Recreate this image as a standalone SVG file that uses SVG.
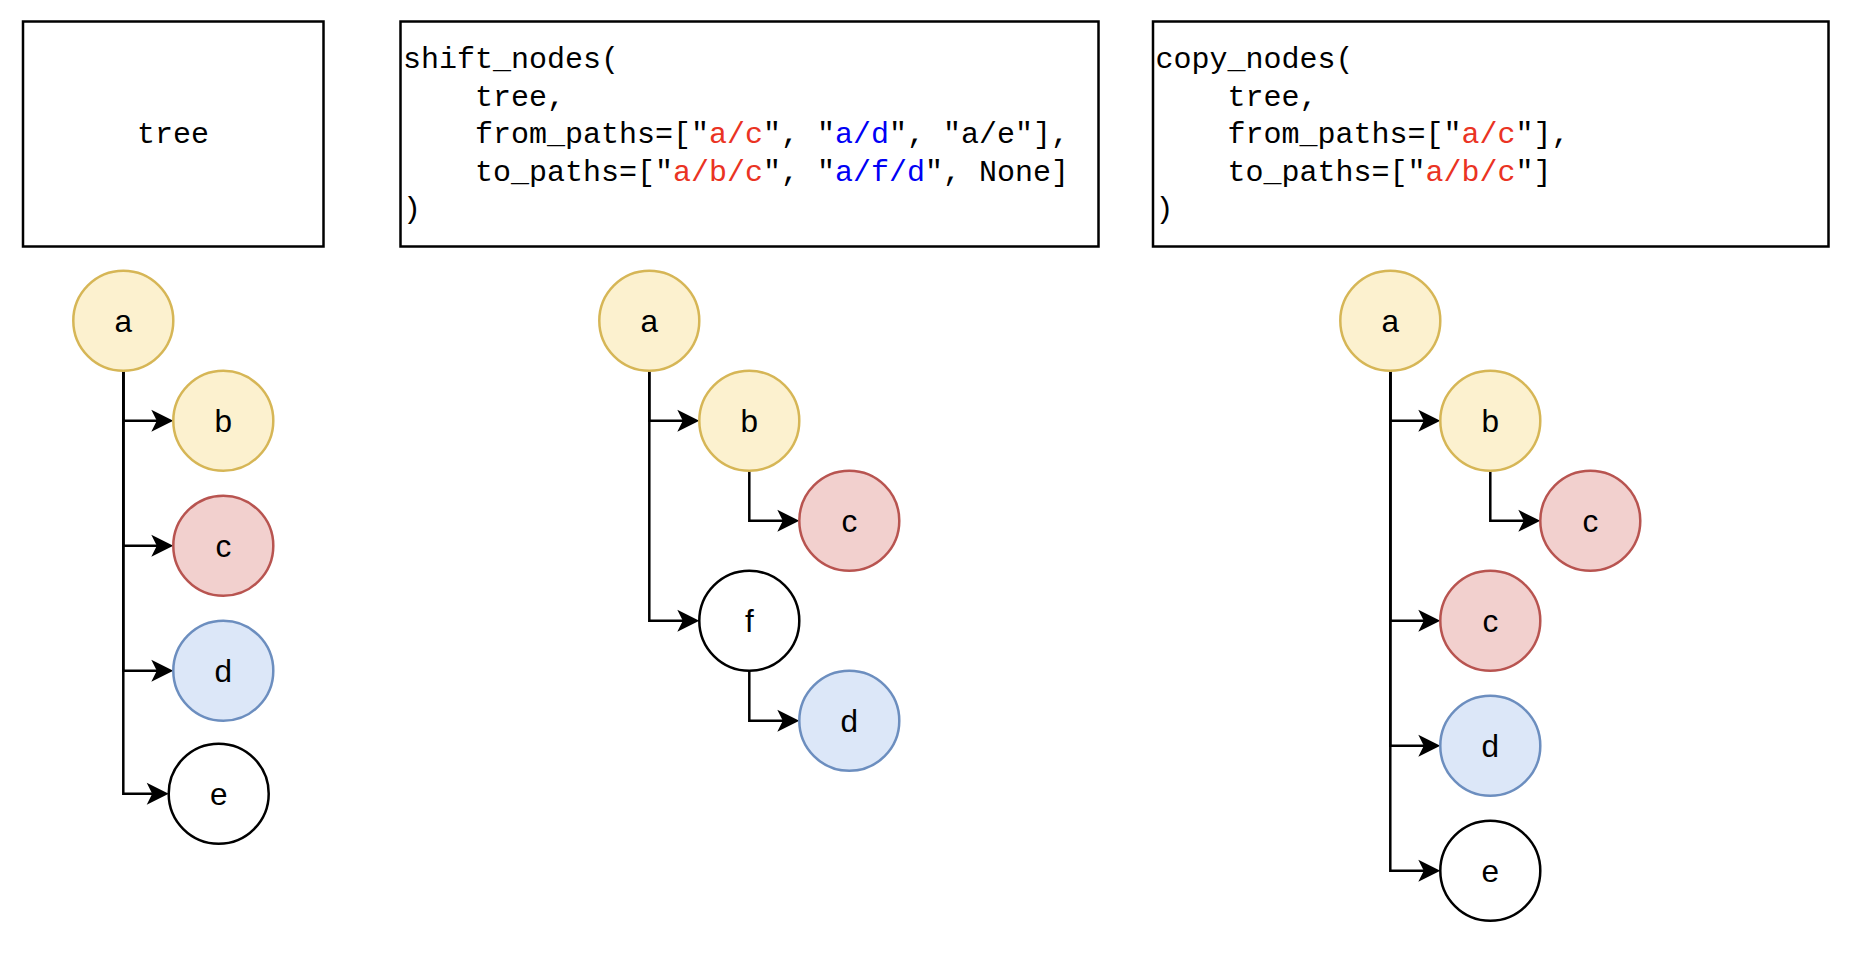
<svg xmlns="http://www.w3.org/2000/svg" width="1858" height="954" viewBox="0 0 1858 954">
  <style>
    .box { fill: #ffffff; stroke: #000000; stroke-width: 2.5; }
    .code { font-family: "Liberation Mono", "Courier New", monospace; font-size: 30px; fill: #000000; }
    .red { fill: #EA3323; }
    .blue { fill: #0000F5; }
    .edge { fill: none; stroke: #000000; stroke-width: 2.5; }
    .n { stroke-width: 2.5; }
    .yellow { fill: #fcf1cf; stroke: #d6b656; }
    .pink { fill: #f2d0ce; stroke: #b85450; }
    .lblue { fill: #dce7f8; stroke: #6c8ebf; }
    .plain { fill: #ffffff; stroke: #000000; }
    .lbl { font-family: "Liberation Sans", Arial, Helvetica, sans-serif; font-size: 31.5px; fill: #000000; text-anchor: middle; }
  </style>
  <defs>
    <marker id="arrow" markerUnits="userSpaceOnUse" orient="auto" refX="0" refY="0" markerWidth="40" markerHeight="40" viewBox="-10 -20 40 40" overflow="visible">
      <path d="M16,0 L-6,-11 L-0.5,0 L-6,11 Z" fill="#000000" stroke="none"/>
    </marker>
  </defs>
  <rect width="1858" height="954" fill="#ffffff"/>

  <g id="box-tree">
    <rect class="box" x="23" y="21.5" width="300.5" height="225"/>
    <text class="code" x="173" y="143" text-anchor="middle">tree</text>
  </g>

  <g id="box-shift">
    <rect class="box" x="400.5" y="21.5" width="698" height="225"/>
    <text class="code" x="403" y="68">shift_nodes(</text>
    <text class="code" x="475" y="105.5">tree,</text>
    <text class="code" x="475" y="143">from_paths=["<tspan class="red">a/c</tspan>", "<tspan class="blue">a/d</tspan>", "a/e"],</text>
    <text class="code" x="475" y="180.5">to_paths=["<tspan class="red">a/b/c</tspan>", "<tspan class="blue">a/f/d</tspan>", None]</text>
    <text class="code" x="403" y="218">)</text>
  </g>

  <g id="box-copy">
    <rect class="box" x="1153" y="21.5" width="675.5" height="225"/>
    <text class="code" x="1155.5" y="68">copy_nodes(</text>
    <text class="code" x="1227.5" y="105.5">tree,</text>
    <text class="code" x="1227.5" y="143">from_paths=["<tspan class="red">a/c</tspan>"],</text>
    <text class="code" x="1227.5" y="180.5">to_paths=["<tspan class="red">a/b/c</tspan>"]</text>
    <text class="code" x="1155.5" y="218">)</text>
  </g>

  <g id="connectors">
    <path class="edge" d="M123.3,370.8 V420.8 H157.3" marker-end="url(#arrow)"/>
    <path class="edge" d="M123.3,370.8 V545.8 H157.3" marker-end="url(#arrow)"/>
    <path class="edge" d="M123.3,370.8 V670.8 H157.3" marker-end="url(#arrow)"/>
    <path class="edge" d="M123.3,370.8 V793.7 H152.7" marker-end="url(#arrow)"/>

    <path class="edge" d="M649.3,370.8 V420.8 H683.3" marker-end="url(#arrow)"/>
    <path class="edge" d="M649.3,370.8 V620.8 H683.3" marker-end="url(#arrow)"/>
    <path class="edge" d="M749.3,470.8 V520.8 H783.3" marker-end="url(#arrow)"/>
    <path class="edge" d="M749.3,670.8 V720.8 H783.3" marker-end="url(#arrow)"/>

    <path class="edge" d="M1390.3,370.8 V420.8 H1424.3" marker-end="url(#arrow)"/>
    <path class="edge" d="M1390.3,370.8 V620.8 H1424.3" marker-end="url(#arrow)"/>
    <path class="edge" d="M1390.3,370.8 V745.8 H1424.3" marker-end="url(#arrow)"/>
    <path class="edge" d="M1390.3,370.8 V870.8 H1424.3" marker-end="url(#arrow)"/>
    <path class="edge" d="M1490.3,470.8 V520.8 H1524.3" marker-end="url(#arrow)"/>
  </g>

  <!-- left tree -->
  <g id="t1-a"><circle class="n yellow" cx="123.3" cy="320.8" r="50"/><text class="lbl" x="123.3" y="331.8">a</text></g>
  <g id="t1-b"><circle class="n yellow" cx="223.3" cy="420.8" r="50"/><text class="lbl" x="223.3" y="431.8">b</text></g>
  <g id="t1-c"><circle class="n pink" cx="223.3" cy="545.8" r="50"/><text class="lbl" x="223.3" y="556.8">c</text></g>
  <g id="t1-d"><circle class="n lblue" cx="223.3" cy="670.8" r="50"/><text class="lbl" x="223.3" y="681.8">d</text></g>
  <g id="t1-e"><circle class="n plain" cx="218.7" cy="793.7" r="50"/><text class="lbl" x="218.7" y="804.7">e</text></g>

  <!-- middle tree -->
  <g id="t2-a"><circle class="n yellow" cx="649.3" cy="320.8" r="50"/><text class="lbl" x="649.3" y="331.8">a</text></g>
  <g id="t2-b"><circle class="n yellow" cx="749.3" cy="420.8" r="50"/><text class="lbl" x="749.3" y="431.8">b</text></g>
  <g id="t2-c"><circle class="n pink" cx="849.3" cy="520.8" r="50"/><text class="lbl" x="849.3" y="531.8">c</text></g>
  <g id="t2-f"><circle class="n plain" cx="749.3" cy="620.8" r="50"/><text class="lbl" x="749.3" y="631.8">f</text></g>
  <g id="t2-d"><circle class="n lblue" cx="849.3" cy="720.8" r="50"/><text class="lbl" x="849.3" y="731.8">d</text></g>

  <!-- right tree -->
  <g id="t3-a"><circle class="n yellow" cx="1390.3" cy="320.8" r="50"/><text class="lbl" x="1390.3" y="331.8">a</text></g>
  <g id="t3-b"><circle class="n yellow" cx="1490.3" cy="420.8" r="50"/><text class="lbl" x="1490.3" y="431.8">b</text></g>
  <g id="t3-c1"><circle class="n pink" cx="1590.3" cy="520.8" r="50"/><text class="lbl" x="1590.3" y="531.8">c</text></g>
  <g id="t3-c2"><circle class="n pink" cx="1490.3" cy="620.8" r="50"/><text class="lbl" x="1490.3" y="631.8">c</text></g>
  <g id="t3-d"><circle class="n lblue" cx="1490.3" cy="745.8" r="50"/><text class="lbl" x="1490.3" y="756.8">d</text></g>
  <g id="t3-e"><circle class="n plain" cx="1490.3" cy="870.8" r="50"/><text class="lbl" x="1490.3" y="881.8">e</text></g>
</svg>
